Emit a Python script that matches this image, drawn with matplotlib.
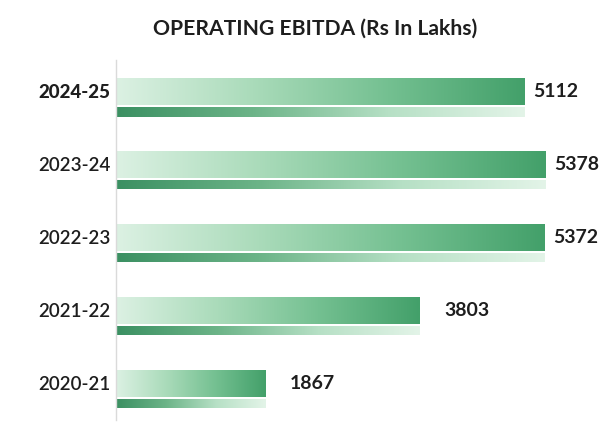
import numpy as np
import matplotlib.pyplot as plt
from matplotlib.colors import LinearSegmentedColormap

plt.rcParams['font.family'] = ['Lato', 'DejaVu Sans']

years = ['2020-21', '2021-22', '2022-23', '2023-24', '2024-25']
values = [1867, 3803, 5372, 5378, 5112]
title = 'OPERATING EBITDA (Rs In Lakhs)'

fade = LinearSegmentedColormap.from_list('fade', ['#dcf1e3', '#aadbba', '#74c091', '#43a06a'])
fade_rev = LinearSegmentedColormap.from_list('fade_rev', ['#3b9062', '#6cb488', '#b6e0c5', '#e3f4e8'])

fig = plt.figure(figsize=(6.11, 4.36), dpi=100)
fig.patch.set_facecolor('white')
ax = fig.add_axes([116 / 611, 16 / 436, 479 / 611, 360 / 436])

pos = np.arange(len(years))
main = ax.barh(pos, values, height=0.37, color='none')
under = ax.barh(pos - 0.28, values, height=0.13, color='none')

grad = np.linspace(0, 1, 256).reshape(1, -1)
for bar in main:
    x, y, w, h = bar.get_x(), bar.get_y(), bar.get_width(), bar.get_height()
    im = ax.imshow(grad, cmap=fade, aspect='auto', extent=[x, x + w, y, y + h], zorder=2)
    im.set_clip_path(bar)
for bar in under:
    x, y, w, h = bar.get_x(), bar.get_y(), bar.get_width(), bar.get_height()
    im = ax.imshow(grad, cmap=fade_rev, aspect='auto', extent=[x, x + w, y, y + h], zorder=2)
    im.set_clip_path(bar)

for p, v in zip(pos, values):
    gap = 110 if v > 5000 else 310
    ax.text(v + gap, p, str(v), va='center', ha='left', fontsize=14,
            fontweight='bold', color='#1e1e1e')

ax.set_xlim(0, 6000)
ax.set_ylim(-0.507, 4.43)
ax.set_yticks(pos)
ax.set_yticklabels(years, fontsize=13.5, color='#1e1e1e', fontweight='semibold')
for lab in ax.get_yticklabels():
    if lab.get_text() == '2024-25':
        lab.set_fontweight('black')
ax.tick_params(axis='y', length=0, pad=4)
ax.set_xticks([])
for s in ['top', 'right', 'bottom']:
    ax.spines[s].set_visible(False)
ax.spines['left'].set_color('#dadada')
ax.spines['left'].set_linewidth(1)
ax.set_facecolor('none')

fig.text(0.515, 0.935, title, ha='center', va='center', fontsize=15.2,
         fontweight='bold', color='#1e1e1e')

fig.savefig('out.png', dpi=100)
